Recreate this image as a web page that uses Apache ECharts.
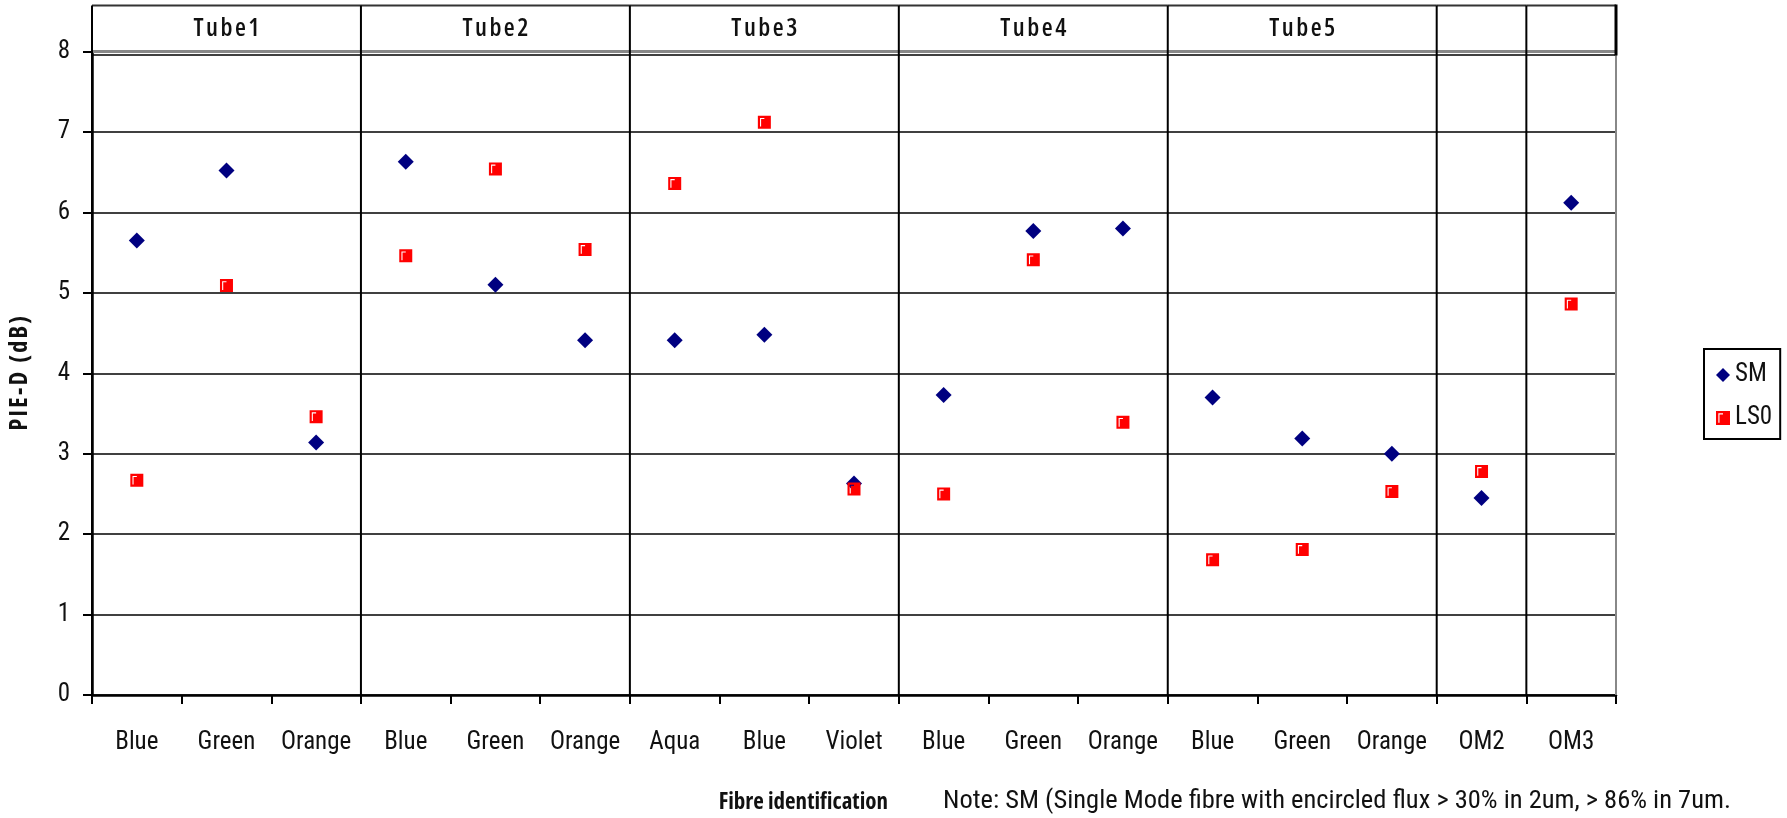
<!DOCTYPE html>
<html><head><meta charset="utf-8">
<script src="https://cdn.jsdelivr.net/npm/echarts@6/dist/echarts.min.js"></script>
<style>html,body{margin:0;padding:0;background:#fff}#c{width:1787px;height:818px}</style>
</head><body><div id="c"></div><script>
// ---- data ----
const categories = ['Blue','Green','Orange','Blue','Green','Orange','Aqua','Blue','Violet','Blue','Green','Orange','Blue','Green','Orange','OM2','OM3'];
const smValues  = [5.65,6.52,3.14,6.63,5.10,4.41,4.41,4.48,2.63,3.73,5.77,5.80,3.70,3.19,3.00,2.45,6.12];
const ls0Values = [2.67,5.09,3.46,5.46,6.54,5.54,6.36,7.12,2.56,2.50,5.41,3.39,1.68,1.81,2.53,2.78,4.86];
const groupNames  = ['Tube1','Tube2','Tube3','Tube4','Tube5','',''];
const groupStarts = [0,3,6,9,12,15,16];
const groupEnds   = [3,6,9,12,15,16,17];
const yMin = 0, yMax = 8, yInterval = 1;
const yTitle = 'PIE-D (dB)';
const xTitle = 'Fibre identification';
const noteText = 'Note: SM (Single Mode fibre with encircled flux > 30% in 2um, > 86% in 7um.';

const FAM = '"Open Sans","DejaVu Sans Condensed",sans-serif';
const RFAM = 'Roboto,"Open Sans",sans-serif';
const HEADER_H = 46;
const spaced = s => s.split('').join('\u200A');
// red square with a small white highlight (like the original marker)
const LS0_SYMBOL = 'path://M0 0L12 0L12 12L0 12Z M2 2L2 10L3 10L3 3L6 3L6 2Z';

const groupData = groupNames.map((n, i) => [groupStarts[i], yMax, groupEnds[i], i]);

function renderGroup(params, api) {
  const i = api.value(3);
  const s = api.value(0), e = api.value(2);
  const pS8 = api.coord([s, yMax]), pE8 = api.coord([e, yMax]);
  const pS0 = api.coord([s, yMin]), pE0 = api.coord([e, yMin]);
  const top = pS8[1] - HEADER_H;
  const children = [];
  children.push({type:'line', shape:{x1:pS8[0], y1:top, x2:pE8[0], y2:top}, style:{stroke:'#333', lineWidth:2}});
  children.push({type:'line', shape:{x1:pS8[0], y1:pS8[1], x2:pE8[0], y2:pE8[1]}, style:{stroke:'#888', lineWidth:3}});
  children.push({type:'line', shape:{x1:pS8[0], y1:pS8[1]+3.5, x2:pE8[0], y2:pE8[1]+3.5}, style:{stroke:'#000', lineWidth:1.5}});
  children.push({type:'line', shape:{x1:pS0[0], y1:pS0[1], x2:pS8[0], y2:top}, style:{stroke:'#000', lineWidth:2}});
  const name = groupNames[i];
  if (name) {
    children.push({type:'text', x:(pS8[0]+pE8[0])/2, y:pS8[1]-HEADER_H/2, style:{text:spaced(name), fill:'#111', font:'600 condensed 25px ' + FAM, align:'center', verticalAlign:'middle'}});
  }
  if (i === groupNames.length - 1) {
    children.push({type:'line', shape:{x1:pE0[0], y1:pE0[1], x2:pE8[0], y2:pE8[1]}, style:{stroke:'#888', lineWidth:2}});
    children.push({type:'line', shape:{x1:pE8[0], y1:pE8[1]+4, x2:pE8[0], y2:top-1}, style:{stroke:'#000', lineWidth:3}});
  }
  return {type:'group', children};
}

const chart = echarts.init(document.getElementById('c'));
chart.setOption({
  backgroundColor:'#fff',
  animation:false,
  grid:{left:85, right:171, top:51.5, bottom:123, containLabel:false},
  legend:{
    orient:'vertical', left:1704, top:349,
    padding:[13,8,8,12], itemGap:17, itemWidth:14, itemHeight:14,
    borderColor:'#000', borderWidth:2,
    textStyle:{fontFamily:RFAM, fontWeight:'condensed', fontSize:25, color:'#111', lineHeight:26},
    data:[{name:'SM', icon:'diamond'},{name:'LS0', icon:LS0_SYMBOL}]
  },
  xAxis:[{
    type:'category', data:categories, boundaryGap:true,
    axisLine:{lineStyle:{color:'#000', width:2.5}},
    axisTick:{show:true, length:9, lineStyle:{color:'#000', width:2}},
    axisLabel:{fontFamily:RFAM, fontWeight:'condensed', fontSize:25, color:'#111', margin:35, interval:0},
    splitLine:{show:false}
  },{
    type:'value', min:0, max:categories.length, show:false
  }],
  yAxis:[{
    type:'value', min:yMin, max:yMax, interval:yInterval,
    name:spaced(yTitle), nameLocation:'middle', nameGap:60, nameRotate:90,
    nameTextStyle:{fontFamily:FAM, fontWeight:'bold condensed', fontSize:24, color:'#111'},
    axisLine:{show:true, lineStyle:{color:'#000', width:2.5}},
    axisTick:{show:true, length:9, lineStyle:{color:'#000', width:2}},
    axisLabel:{fontFamily:RFAM, fontWeight:'condensed', fontSize:25, color:'#111', margin:22},
    splitLine:{show:true, lineStyle:{color:'#000', width:1.5}}
  }],
  graphic:[
    {type:'text', x:888, y:802, style:{text:xTitle, font:'bold condensed 23px ' + FAM, fill:'#111', align:'right', verticalAlign:'middle'}},
    {type:'text', x:943, y:801, style:{text:noteText, font:'condensed 26.5px ' + RFAM, fill:'#111', align:'left', verticalAlign:'middle'}}
  ],
  series:[
    {type:'custom', xAxisIndex:1, yAxisIndex:0, data:groupData, renderItem:renderGroup, z:1, silent:true,
     encode:{x:[0,2], y:1}},
    {name:'SM', type:'scatter', data:smValues, symbol:'diamond', symbolSize:16,
     itemStyle:{color:'#000080', opacity:1}, z:5},
    {name:'LS0', type:'scatter', data:ls0Values, symbol:LS0_SYMBOL, symbolSize:13,
     itemStyle:{color:'#ff0000', opacity:1}, z:5}
  ]
});
</script></body></html>
